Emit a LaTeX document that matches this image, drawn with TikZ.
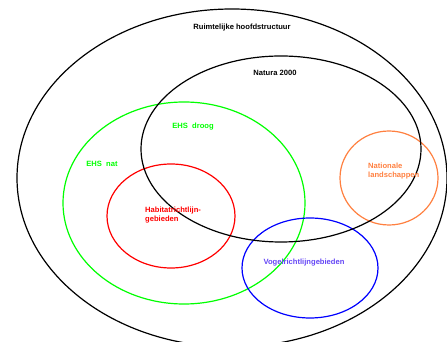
\documentclass[tikz,border=0pt]{standalone}
\usepackage{fontspec}
\setmainfont{Liberation Sans}
\begin{document}
\begin{tikzpicture}[x=1pt,y=1pt,
  ring/.style={line width=1.2pt},
  lbl/.style={font=\fontsize{7.6}{9}\selectfont\bfseries, inner sep=0pt},
  lblleft/.style={lbl, align=left}]
\useasboundingbox (0,0) rectangle (447,342);
\definecolor{lime}{RGB}{0,255,0}
\definecolor{orng}{RGB}{255,128,64}
\definecolor{vogel}{RGB}{100,70,245}
% ellipses (y = 342 - pixel y)
\begin{scope}
\clip (0,0) rectangle (447,342);
\draw[ring,black] (232,164) ellipse [x radius=215, y radius=169];
\end{scope}
\draw[ring,lime] (184,139) ellipse [x radius=121, y radius=101];
\draw[ring,red] (171,126) ellipse [x radius=64, y radius=52];
\draw[ring,orng] (389,164) ellipse [x radius=49, y radius=47];
\draw[ring,blue] (310,74) ellipse [x radius=68, y radius=50];
\draw[ring,black] (281,193) ellipse [x radius=140, y radius=93];
% labels
\node[lbl] (rhs) at (242,314) {Ruimtelijke hoofdstructuur};
\node[lbl] (nat) at (275,269) {Natura 2000};
\node[lbl,text=lime] (ehsd) at (193,215) {EHS\ \ droog};
\node[lbl,text=lime] (ehsn) at (102,178) {EHS\ \ nat};
\node[lblleft,text=red,anchor=west] (hab) at (145,127) {Habitatrichtlijn-\\gebieden};
\node[lblleft,text=orng,anchor=west] (nl) at (368,171) {Nationale\\landschappen};
\node[lbl,text=vogel] (vog) at (304,79) {Vogelrichtlijngebieden};
\end{tikzpicture}
\end{document}
